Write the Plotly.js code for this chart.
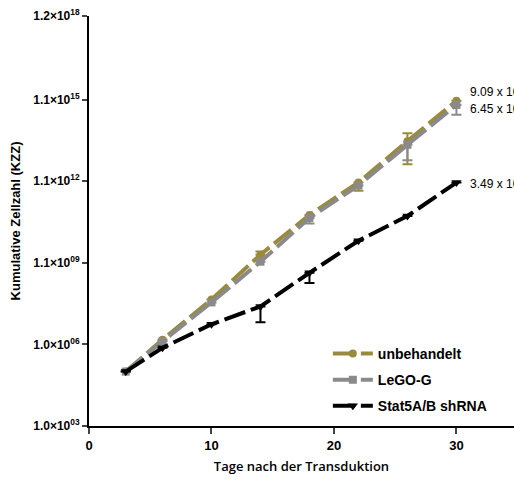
<!DOCTYPE html>
<html><head><meta charset="utf-8">
<script src="https://cdn.plot.ly/plotly-3.0.1.min.js"></script>
<style>html,body{margin:0;padding:0;background:#fff;}#chart{width:514px;height:483px;}</style>
</head><body><div id="chart"></div>
<script>
const days = [3, 6, 10, 14, 18, 22, 26, 30];
const unbehandelt = [1.0e5, 1.5e6, 4.5e7, 2.0e9, 5.8e10, 9.0e11, 3.0e13, 9.09e14];
const unbehandeltHi = [1.0e5, 1.5e6, 4.5e7, 2.6e9, 5.8e10, 9.0e11, 5.8e13, 9.09e14];
const unbehandeltLo = [1.0e5, 1.5e6, 4.5e7, 2.0e9, 5.8e10, 4.5e11, 4.2e12, 9.09e14];
const lego = [1.0e5, 1.3e6, 3.5e7, 1.1e9, 4.5e10, 7.0e11, 2.2e13, 6.45e14];
const legoHi = [1.0e5, 1.3e6, 3.5e7, 1.1e9, 4.5e10, 7.0e11, 2.2e13, 6.45e14];
const legoLo = [1.0e5, 1.3e6, 3.5e7, 1.1e9, 2.8e10, 7.0e11, 6.0e12, 2.8e14];
const stat = [1.0e5, 7.5e5, 5.5e6, 2.5e7, 4.3e8, 6.5e9, 5.3e10, 9.0e11];
const statHi = [1.0e5, 7.5e5, 5.5e6, 2.5e7, 4.3e8, 6.5e9, 5.3e10, 9.0e11];
const statLo = [1.0e5, 7.5e5, 5.5e6, 6.5e6, 1.8e8, 6.5e9, 5.3e10, 9.0e11];
const tickVals = [1e3, 1e6, 1e9, 1e12, 1e15, 1.2e18];
const tickText = ['1.0×10<sup>03</sup>', '1.0×10<sup>06</sup>', '1.1×10<sup>09</sup>', '1.1×10<sup>12</sup>', '1.1×10<sup>15</sup>', '1.2×10<sup>18</sup>'];
const endLabels = ['9.09 x 10<sup>14</sup>', '6.45 x 10<sup>14</sup>', '3.49 x 10<sup>12</sup>'];

function err(y, hi, lo) {
  return {type: 'data', symmetric: false,
    array: y.map((v, i) => hi[i] - v), arrayminus: y.map((v, i) => v - lo[i]),
    thickness: 2, width: 5};
}
const F = 'Liberation Sans, Arial, sans-serif';
const gold = '#9a8a3c', grey = '#8a8a8a';
const traces = [
  {x: days, y: unbehandelt, name: 'unbehandelt', legendgroup: 'a', mode: 'lines+markers',
   line: {color: gold, width: 4, dash: '22px,6px'}, marker: {symbol: 'circle', size: 8, color: gold},
   error_y: Object.assign(err(unbehandelt, unbehandeltHi, unbehandeltLo), {color: gold})},
  {x: days, y: lego, name: 'LeGO-G', legendgroup: 'b', mode: 'lines+markers',
   line: {color: grey, width: 4, dash: '22px,6px'}, marker: {symbol: 'square', size: 8, color: grey},
   error_y: Object.assign(err(lego, legoHi, legoLo), {color: grey})},
  {x: days, y: stat, name: 'Stat5A/B shRNA', legendgroup: 'c', mode: 'lines+markers',
   line: {color: '#000', width: 4, dash: '22px,6px'}, marker: {symbol: 'triangle-down', size: 9, color: '#000'},
   error_y: Object.assign(err(stat, statHi, statLo), {color: '#000'})}
];
const annYs = [unbehandelt[7], lego[7], stat[7]];
const annotations = endLabels.map((t, i) => ({
  x: 30, y: Math.log10(annYs[i]), xref: 'x', yref: 'y', text: t, showarrow: false,
  xanchor: 'left', xshift: 12, yshift: [10, -3, 0][i],
  font: {family: 'Liberation Sans Narrow, Liberation Sans, sans-serif', size: 12, color: '#000'}
}));
const layout = {
  width: 514, height: 483,
  margin: {l: 89, r: 0, t: 16, b: 57},
  paper_bgcolor: '#fff', plot_bgcolor: '#fff',
  showlegend: true,
  legend: {x: 0.562, y: 0.215, xanchor: 'left', yanchor: 'top', bgcolor: 'rgba(0,0,0,0)',
    font: {family: F, size: 14, color: '#000', weight: 'bold'}, tracegroupgap: 5, itemwidth: 40},
  xaxis: {range: [0, 34.7], tickvals: [0, 10, 20, 30], ticks: 'outside', ticklen: 6, tickwidth: 2,
    showline: true, linewidth: 2, linecolor: '#000', showgrid: false, zeroline: false,
    tickfont: {family: F, size: 13, color: '#000', weight: 'bold'},
    title: {text: 'Tage nach der Transduktion', standoff: 10,
      font: {family: 'Open Sans, sans-serif', size: 13, color: '#000', weight: 600}}},
  yaxis: {type: 'log', range: [3, Math.log10(1.2e18)], tickvals: tickVals, ticktext: tickText,
    ticks: 'outside', ticklen: 5, tickwidth: 2, showline: true, linewidth: 2, linecolor: '#000',
    showgrid: false, zeroline: false,
    tickfont: {family: F, size: 12, color: '#000', weight: 'bold'},
    title: {text: 'Kumulative Zellzahl (KZZ)', standoff: 10,
      font: {family: F, size: 13, color: '#000', weight: 'bold'}}},
  annotations: annotations
};
Plotly.newPlot('chart', traces, layout, {displayModeBar: false, staticPlot: true});
</script></body></html>
